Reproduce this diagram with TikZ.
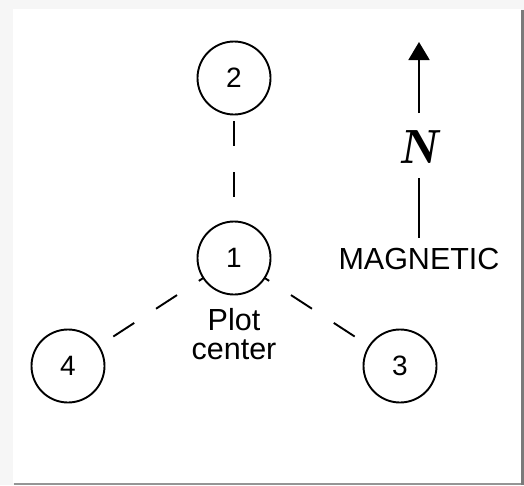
\documentclass[tikz,border=0pt]{standalone}
\usepackage{fontspec}
\setmainfont{Liberation Sans}
\usetikzlibrary{arrows.meta}
\definecolor{bgout}{HTML}{F6F6F6}
\definecolor{shadow}{HTML}{7A7A7A}
\tikzset{
  station/.style={circle,draw=black,fill=white,line width=1.9pt,minimum size=73pt,inner sep=0pt,font=\fontsize{28}{28}\selectfont},
  dashline/.style={line width=1.9pt,dash pattern=on 25pt off 26pt},
  lbl/.style={font=\fontsize{30.5}{29}\selectfont,align=center,inner sep=0pt},
}
\begin{document}
\begin{tikzpicture}[x=1pt,y=-1pt]
\useasboundingbox (0,0) rectangle (524,485);
\fill[bgout] (0,0) rectangle (524,485);
\fill[white] (13,9) rectangle (521,483);
\fill[shadow] (521,10) rectangle (524,485);
\fill[shadow!80] (14,483) rectangle (521,485);
% centres
\coordinate (c1) at (234,258);
\coordinate (c2) at (234,78);
\coordinate (c3) at (400,366);
\coordinate (c4) at (68,366);
% dashed connectors
\draw[dashline,dash phase=8pt] (c2) -- (c1);
\draw[dashline,dash phase=34pt] (c1) -- (c3);
\draw[dashline,dash phase=34pt] (c1) -- (c4);
% stations
\node[station] (n1) at (c1) {1};
\node[station] (n2) at (c2) {2};
\node[station] (n3) at (c3) {3};
\node[station] (n4) at (c4) {4};
\node[lbl,anchor=base] (pc) at (234,359) {Plot\\center};
% north arrow
\coordinate (tip) at (419,42);
\coordinate (a1) at (419,113);
\coordinate (a2) at (419,178);
\coordinate (a3) at (419,238);
\draw[line width=1.9pt,-{Triangle[length=18pt,width=21pt]}] (a1) -- (tip);
\draw[line width=1.9pt] (a2) -- (a3);
\node[inner sep=0pt,font=\fontfamily{lmr}\fontseries{sb}\itshape\fontsize{48}{48}\selectfont] (N) at (418,147) {N};
\node[lbl] (mag) at (419,259) {MAGNETIC};
\end{tikzpicture}
\end{document}
